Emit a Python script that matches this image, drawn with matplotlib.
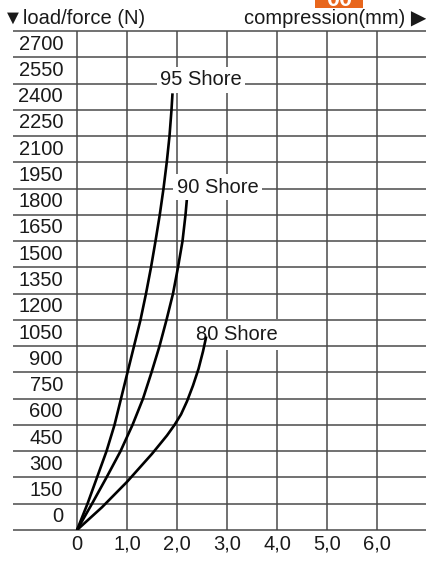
import matplotlib
matplotlib.use("Agg")
import matplotlib.pyplot as plt
from matplotlib.patches import Rectangle

plt.rcParams['font.family'] = ['Liberation Sans', 'DejaVu Sans']

# load values for the row labels (N)
load_ticks = [0, 150, 300, 450, 600, 750, 900, 1050, 1200, 1350, 1500,
              1650, 1800, 1950, 2100, 2250, 2400, 2550, 2700]
comp_ticks = [0, 1, 2, 3, 4, 5, 6]
comp_labels = ["0", "1,0", "2,0", "3,0", "4,0", "5,0", "6,0"]

# curves: compression (mm) / load (N)
shore95_x = [0, 0.21, 0.40, 0.59, 0.75, 0.88, 1.01, 1.14, 1.27, 1.38, 1.48,
             1.57, 1.655, 1.73, 1.795, 1.85, 1.89, 1.91]
shore95_y = [0, 150, 300, 450, 600, 750, 900, 1050, 1200, 1350, 1500,
             1650, 1800, 1950, 2100, 2250, 2400, 2494]
shore90_x = [0, 0.30, 0.59, 0.87, 1.11, 1.32, 1.49, 1.65, 1.79, 1.92, 2.02,
             2.11, 2.17, 2.2]
shore90_y = [0, 150, 300, 450, 600, 750, 900, 1050, 1200, 1350, 1500,
             1650, 1800, 1897]
shore80_x = [0, 0.5, 1.0, 1.5, 1.8, 1.95, 2.08, 2.2, 2.32, 2.43, 2.52, 2.585]
shore80_y = [0, 130, 275, 435, 540, 600, 660, 735, 825, 920, 1020, 1105]

fig = plt.figure(figsize=(4.27, 5.61), dpi=100)
ax = fig.add_axes([13/427, 31/561, 414/427, 499/561])
xmin, xmax, ytop = -1.28, 7.0, 2850
ax.set_xlim(xmin, xmax)
ax.set_ylim(0, ytop)
ax.axis('off')

grid_c = '#4a4a4a'
# rows
ax.hlines(load_ticks + [ytop], xmin, xmax, color=grid_c, lw=1.1, zorder=3, clip_on=False)
# columns
ax.vlines(comp_ticks, 0, ytop, color=grid_c, lw=1.1, zorder=1)

fs = 14.5
tc = '#1a1a1a'
for v in load_ticks:
    ax.text(-0.28, v + 75, str(v), ha='right', va='center', fontsize=fs,
            color=tc, zorder=5)
for x, lab in zip(comp_ticks, comp_labels):
    ax.text(x, -80, lab, ha='center', va='center', fontsize=fs,
            color=tc, clip_on=False)

for xs, ys in [(shore95_x, shore95_y), (shore90_x, shore90_y), (shore80_x, shore80_y)]:
    ax.plot(xs, ys, color='black', lw=1.9, zorder=6, solid_capstyle='butt',
            solid_joinstyle='round')

box = dict(facecolor='white', edgecolor='none', pad=2.5)
ax.text(2.48, 2572, "95 Shore", ha='center', va='center', fontsize=fs,
        color=tc, bbox=box, zorder=7)
ax.text(2.81, 1958, "90 Shore", ha='center', va='center', fontsize=fs,
        color=tc, bbox=box, zorder=7)
ax.text(3.19, 1118, "80 Shore", ha='center', va='center', fontsize=fs,
        color=tc, bbox=dict(facecolor='white', edgecolor='none', pad=4.5),
        zorder=2)

# header
fig.text(3/427, 1 - 18/561, "\u25bcload/force (N)", ha='left', va='center',
         fontsize=fs, color=tc)
fig.text(426/427, 1 - 18/561, "compression(mm) \u25b6", ha='right', va='center',
         fontsize=fs, color=tc)

# orange tab cut off at the top edge
fig.patches.append(Rectangle((315/427, 1 - 8/561), 48/427, 8/561,
                             transform=fig.transFigure, facecolor='#e8661c',
                             edgecolor='none'))
fig.text(339/427, 1 - 6/561, "00", ha='center', va='baseline', fontsize=17,
         fontweight='bold', color='white')

fig.savefig('out.png', dpi=100)
